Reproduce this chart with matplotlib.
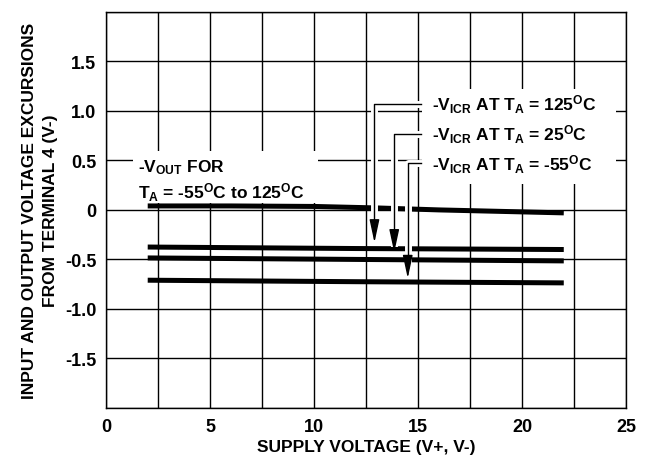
import matplotlib
matplotlib.use('Agg')
import matplotlib.pyplot as plt
import matplotlib.patheffects as pe
from matplotlib.patches import Rectangle

plt.rcParams['font.family'] = ['Liberation Sans', 'DejaVu Sans']
plt.rcParams['font.weight'] = 'bold'
plt.rcParams['mathtext.fontset'] = 'custom'
plt.rcParams['mathtext.rm'] = 'Liberation Sans:bold'
plt.rcParams['mathtext.it'] = 'Liberation Sans:bold'
plt.rcParams['mathtext.bf'] = 'Liberation Sans:bold'

# curves
vout_x = [2, 6, 10, 13, 16, 19, 22]
vout_y = [0.04, 0.04, 0.035, 0.02, 0.0, -0.015, -0.03]
icr125_x = [2, 12, 22]
icr125_y = [-0.375, -0.39, -0.40]
icr25_x = [2, 12, 22]
icr25_y = [-0.485, -0.50, -0.515]
icrm55_x = [2, 12, 22]
icrm55_y = [-0.71, -0.725, -0.737]

# leader lines: (label, text y, corner x, arrow tip y)
labels = ['-V$_{ICR}$ AT T$_{A}$ = 125$^{O}$C',
          '-V$_{ICR}$ AT T$_{A}$ = 25$^{O}$C',
          '-V$_{ICR}$ AT T$_{A}$ = -55$^{O}$C']
label_y = [1.07, 0.77, 0.47]
arrow_x = [12.9, 13.85, 14.5]
arrow_tip = [-0.33, -0.43, -0.69]

grid_x = [0, 2.5, 5, 7.5, 10, 12.5, 15, 17.5, 20, 22.5, 25]
xtick_labels = ['0', '', '5', '', '10', '', '15', '', '20', '', '25']
grid_y = [-2, -1.5, -1.0, -0.5, 0, 0.5, 1.0, 1.5, 2]
ytick_labels = ['', '-1.5', '-1.0', '-0.5', '0', '0.5', '1.0', '1.5', '']

fig = plt.figure(figsize=(6.55, 4.6), dpi=100)
ax = fig.add_axes([0.162, 0.111, 0.794, 0.861])

ax.set_xlim(0, 25)
ax.set_ylim(-2, 2)
ax.set_xticks(grid_x)
ax.set_xticklabels(xtick_labels)
ax.set_yticks(grid_y)
ax.set_yticklabels(ytick_labels)
ax.tick_params(length=0, labelsize=13, pad=7)
for lab in ax.get_xticklabels() + ax.get_yticklabels():
    lab.set_fontweight('bold')
ax.grid(True, color='black', linewidth=1.0)
ax.set_axisbelow(True)
for s in ax.spines.values():
    s.set_linewidth(1.0)

# white boxes behind the labels
ax.add_patch(Rectangle((1.3, 0.07), 8.9, 0.53, facecolor='white', edgecolor='none', zorder=1.5))
ax.add_patch(Rectangle((15.2, 0.26), 9.3, 0.96, facecolor='white', edgecolor='none', zorder=1.5))

lw = 3.6
for xs, ys in [(vout_x, vout_y), (icr125_x, icr125_y), (icr25_x, icr25_y), (icrm55_x, icrm55_y)]:
    ax.plot(xs, ys, color='black', linewidth=lw, solid_capstyle='butt', zorder=3)

halo = [pe.withStroke(linewidth=5, foreground='white')]
for lab, ly, axx, tip in zip(labels, label_y, arrow_x, arrow_tip):
    ax.plot([15.15, axx, axx], [ly, ly, tip + 0.1], color='black', linewidth=1.0,
            path_effects=halo, zorder=4)
    ax.annotate('', xy=(axx, tip), xytext=(axx, tip + 0.12),
                arrowprops=dict(arrowstyle='-|>,head_length=1.4,head_width=0.3',
                                color='black', linewidth=1.0, shrinkA=0, shrinkB=0),
                zorder=5)
    ax.text(15.65, ly, lab, fontsize=12.5, fontweight='bold', va='center', ha='left', zorder=6)

ax.text(1.55, 0.44, '-V$_{OUT}$ FOR', fontsize=12.5, fontweight='bold', va='center', ha='left', zorder=6)
ax.text(1.55, 0.18, 'T$_{A}$ = -55$^{O}$C to 125$^{O}$C', fontsize=12.5, fontweight='bold',
        va='center', ha='left', zorder=6)

ax.set_xlabel('SUPPLY VOLTAGE (V+, V-)', fontsize=12.5, fontweight='bold', labelpad=3)
ax.set_ylabel('INPUT AND OUTPUT VOLTAGE EXCURSIONS\nFROM TERMINAL 4 (V-)', fontsize=12.5,
              fontweight='bold', labelpad=5, linespacing=1.5)

fig.savefig('out.png', dpi=100)
